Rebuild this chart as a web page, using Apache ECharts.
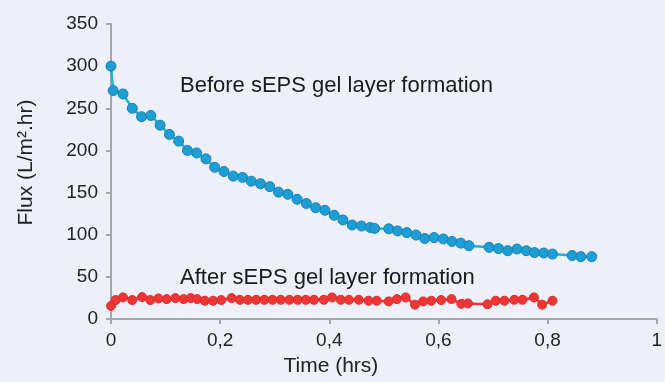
<!DOCTYPE html>
<html>
<head>
<meta charset="utf-8">
<script src="https://cdn.jsdelivr.net/npm/echarts@6/dist/echarts.min.js"></script>
<style>
  html, body { margin: 0; padding: 0; background: #edf0f8; }
  #main { width: 665px; height: 382px; }
</style>
</head>
<body>
<div id="main"></div>
<script>
// before gel layer (hrs, L/m2.hr)
var timeBefore = [0, 0.004, 0.022, 0.039, 0.056, 0.073, 0.090, 0.107, 0.124, 0.140,
    0.157, 0.174, 0.190, 0.207, 0.224, 0.241, 0.257, 0.274, 0.291, 0.307,
    0.324, 0.341, 0.358, 0.375, 0.392, 0.409, 0.425, 0.442, 0.459, 0.475,
    0.483, 0.509, 0.525, 0.542, 0.559, 0.575, 0.592, 0.609, 0.625, 0.641,
    0.656, 0.693, 0.710, 0.727, 0.744, 0.761, 0.776, 0.793, 0.809, 0.845,
    0.861, 0.881];
var fluxBefore = [300, 271, 267, 250, 240, 241.5, 230, 219, 211, 200,
    197, 190, 180, 175, 169.5, 168, 163.5, 160.5, 157, 150.5,
    148, 142, 137, 132, 129, 123, 117.5, 111.5, 110.3, 108.5,
    107.5, 107, 104.5, 102.5, 99.6, 95.5, 96.6, 95, 92, 90,
    87, 85, 83.5, 81, 83, 81, 78.8, 78.3, 77, 75.3,
    74, 74];

// after gel layer
var timeAfter = [0, 0.0085, 0.022, 0.039, 0.057, 0.072, 0.087, 0.102, 0.118, 0.133,
    0.146, 0.158, 0.172, 0.187, 0.202, 0.221, 0.236, 0.251, 0.266, 0.281,
    0.296, 0.311, 0.327, 0.342, 0.357, 0.372, 0.390, 0.405, 0.421, 0.436,
    0.454, 0.472, 0.487, 0.509, 0.524, 0.540, 0.557, 0.572, 0.587, 0.605,
    0.624, 0.642, 0.654, 0.690, 0.705, 0.721, 0.739, 0.754, 0.775, 0.790,
    0.809];
var fluxAfter = [15.5, 22.5, 25.6, 22.5, 26, 22.5, 24.4, 23.6, 24.8, 23.6,
    24.8, 23.6, 21.7, 21.7, 22.5, 24.8, 22.8, 22.8, 22.8, 22.8,
    22.8, 22.8, 22.8, 22.8, 22.8, 22.8, 22.8, 25.6, 22.8, 22.8,
    22.8, 21.7, 21.7, 20.9, 23.6, 25.6, 17, 20.9, 21.7, 22.5,
    23.6, 18, 18.5, 17.5, 21.7, 21.7, 22.8, 22.8, 25.6, 17,
    21.7];

var xTicks = ['0', '0,2', '0,4', '0,6', '0,8', '1'];

function pairs(xs, ys) {
    var out = [];
    for (var i = 0; i < xs.length; i++) out.push([xs[i], ys[i]]);
    return out;
}

var chart = echarts.init(document.getElementById('main'));
var axisColor = '#a3a6ab';
var txt = '#222';
var fontFam = '"Liberation Sans", Arial, sans-serif';

var option = {
    backgroundColor: '#edf0f8',
    animation: false,
    textStyle: { fontFamily: fontFam },
    grid: { left: 111, right: 3, top: 24, bottom: 62 },
    xAxis: {
        type: 'value',
        min: 0,
        max: 1,
        interval: 0.2,
        name: 'Time (hrs)',
        nameLocation: 'middle',
        nameGap: 37,
        // title sits under the 0,4 tick, not the middle of the axis
        nameTextStyle: { color: txt, fontSize: 21, fontFamily: fontFam, padding: [0, 106, 0, 0] },
        axisLine: { lineStyle: { color: axisColor, width: 2 } },
        axisTick: { show: true, length: 5, lineStyle: { color: axisColor, width: 2 } },
        axisLabel: {
            color: txt, fontSize: 19, margin: 12, fontFamily: fontFam,
            formatter: function (v) { return xTicks[Math.round(v / 0.2)]; }
        },
        splitLine: { show: false }
    },
    yAxis: {
        type: 'value',
        min: 0,
        max: 350,
        interval: 50,
        name: 'Flux (L/m\u00b2.hr)',
        nameLocation: 'middle',
        nameGap: 74,
        nameTextStyle: { color: txt, fontSize: 21, fontFamily: fontFam, padding: [0, 0, 0, 18] },
        axisLine: { show: true, lineStyle: { color: axisColor, width: 2 } },
        axisTick: { show: true, length: 5, lineStyle: { color: axisColor, width: 2 } },
        axisLabel: { color: txt, fontSize: 19, margin: 13, fontFamily: fontFam },
        splitLine: { show: false }
    },
    graphic: [
        {
            type: 'text', left: 180, top: 75, silent: true,
            style: { text: 'Before sEPS gel layer formation', fill: '#1a1a1a', font: '22px ' + fontFam }
        },
        {
            type: 'text', left: 180, top: 267, silent: true,
            style: { text: 'After sEPS gel layer formation', fill: '#1a1a1a', font: '22px ' + fontFam }
        }
    ],
    series: [
        {
            name: 'Before',
            type: 'line',
            data: pairs(timeBefore, fluxBefore),
            symbol: 'circle',
            symbolSize: 10,
            clip: false,
            lineStyle: { color: '#25b0cf', width: 2.5 },
            itemStyle: { color: '#1c9fd4', borderColor: '#1a7fb3', borderWidth: 1 }
        },
        {
            name: 'After',
            type: 'line',
            data: pairs(timeAfter, fluxAfter),
            symbol: 'circle',
            symbolSize: 9,
            clip: false,
            lineStyle: { color: '#ef3434', width: 2.5 },
            itemStyle: { color: '#f03535', borderColor: '#e02a2a', borderWidth: 1 }
        }
    ]
};

chart.setOption(option);
</script>
</body>
</html>
